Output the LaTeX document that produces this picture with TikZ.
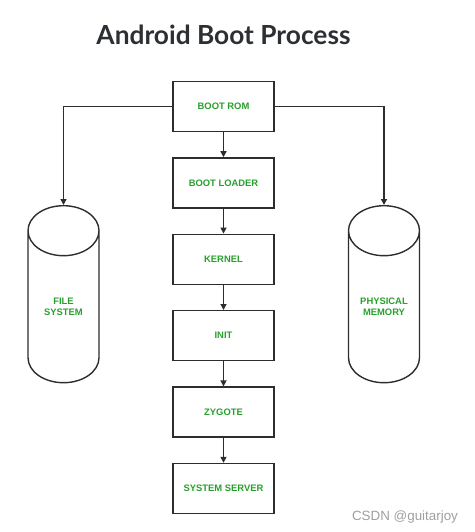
\documentclass[tikz,border=0pt]{standalone}
\usepackage{fontspec}
\setmainfont{Liberation Sans}
\newfontfamily\titlefont{Lato}
\usetikzlibrary{positioning,shapes.geometric,arrows.meta}
\definecolor{labelgreen}{RGB}{38,160,44}
\definecolor{linegray}{RGB}{45,45,45}
\definecolor{titlegray}{RGB}{44,48,52}

\tikzset{
  stage/.style={draw=linegray, line width=1.4pt, minimum width=101pt, minimum height=50pt,
    font=\bfseries\fontsize{9.4}{11}\selectfont, text=labelgreen},
  store/.style={draw=linegray, line width=1.4pt, cylinder, shape border rotate=90,
    aspect=7.5, minimum width=71pt, minimum height=177pt, anchor=north},
  storetext/.style={font=\bfseries\fontsize{9.4}{11}\selectfont, text=labelgreen, align=center},
  flow/.style={draw=linegray, line width=1.4pt, -{Triangle[length=6pt,width=6pt]}},
}

\begin{document}
\begin{tikzpicture}[x=1pt,y=-1pt]
\useasboundingbox (0,0) rectangle (474,532);

\node[font=\titlefont\bfseries\fontsize{26.3}{30}\selectfont, text=titlegray] (title) at (223.5,35) {Android Boot Process};

% boot chain
\node[stage] (rom) at (223.5,106.5) {BOOT ROM};
\node[stage, below=25pt of rom] (loader) {BOOT LOADER};
\node[stage, below=25pt of loader] (kernel) {KERNEL};
\node[stage, below=25pt of kernel] (init) {INIT};
\node[stage, below=25pt of init] (zygote) {ZYGOTE};
\node[stage, below=25pt of zygote] (server) {SYSTEM SERVER};

\draw[flow] (rom) -- (loader);
\draw[flow] (loader) -- (kernel);
\draw[flow] (kernel) -- (init);
\draw[flow] (init) -- (zygote);
\draw[flow] (zygote) -- (server);

% storage
\node[store] (fs) at (63.5,205) {};
\node[storetext] (fslabel) at (63.5,307) {FILE\\SYSTEM};
\node[store] (mem) at (384,205) {};
\node[storetext] (memlabel) at (384,307) {PHYSICAL\\MEMORY};

\draw[flow] (rom.west) -| (fs.north);
\draw[flow] (rom.east) -| (mem.north);

\node[text=gray!75, font=\fontsize{13.4}{15}\selectfont] (mark) at (405,517) {CSDN @guitarjoy};
\end{tikzpicture}
\end{document}
